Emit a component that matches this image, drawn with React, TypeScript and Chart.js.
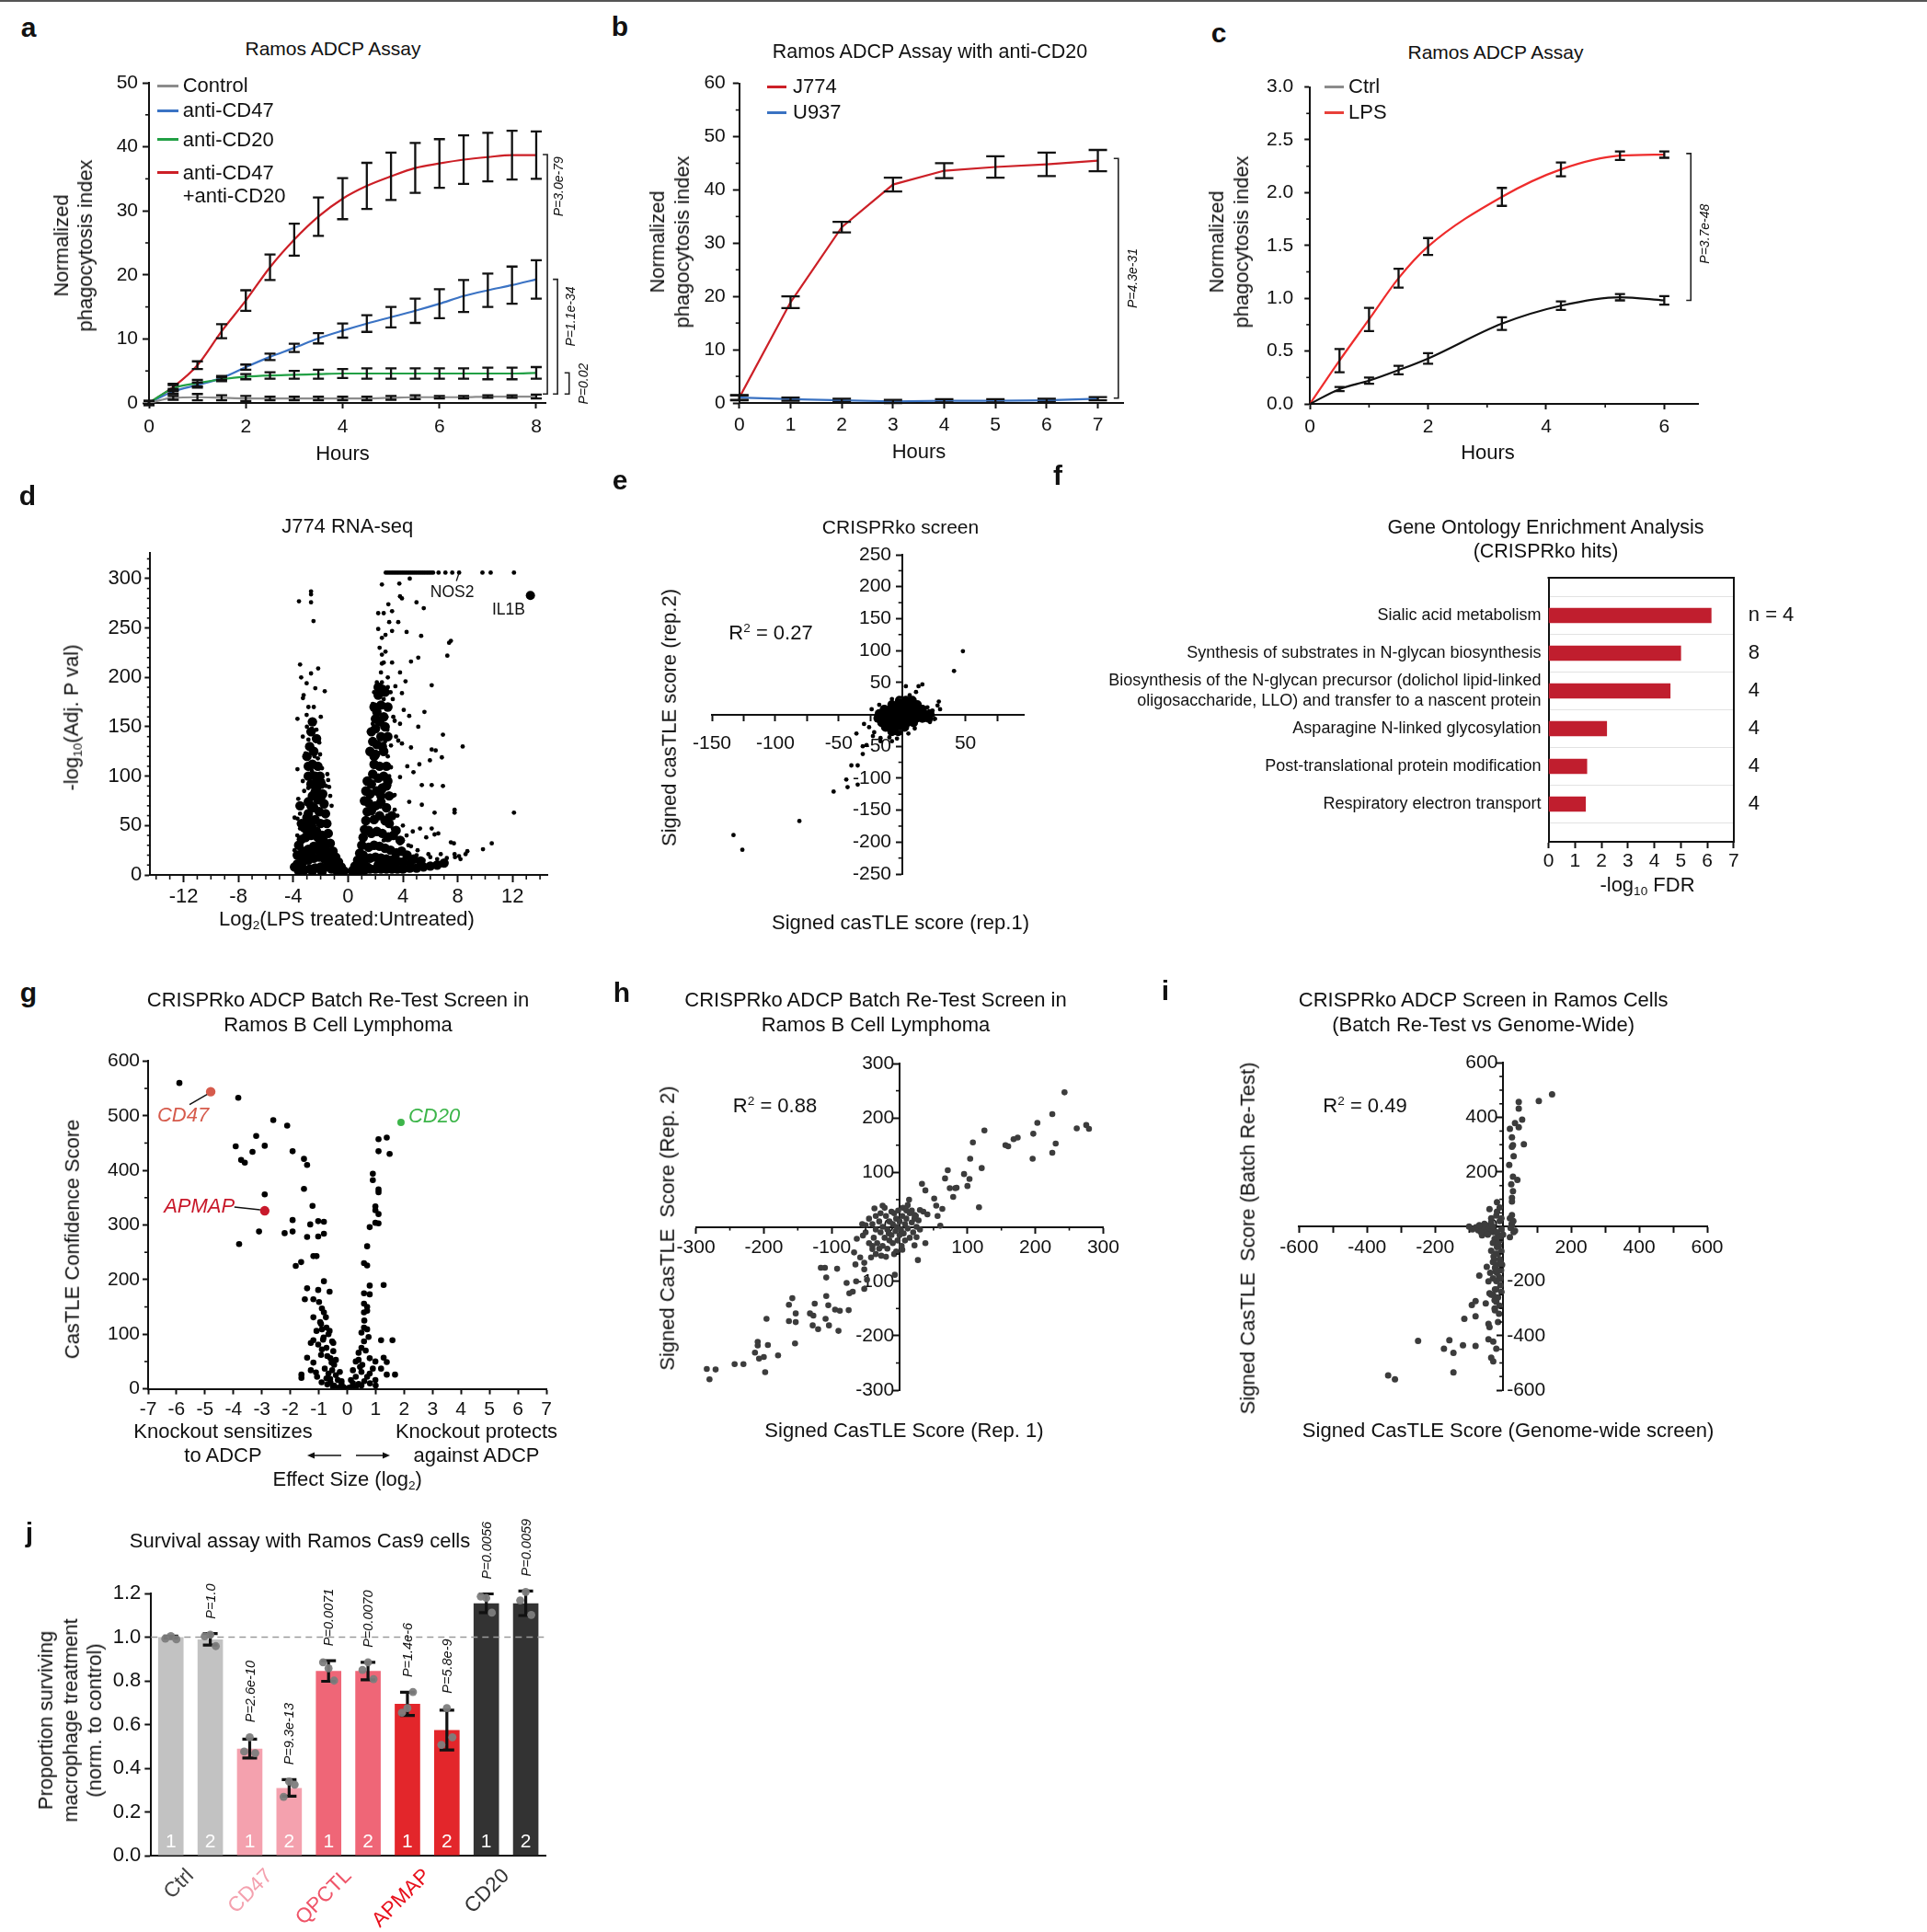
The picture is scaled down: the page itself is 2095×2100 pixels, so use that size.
import React, { useEffect, useRef } from 'react';
import { Chart, registerables } from 'chart.js';

Chart.register(...registerables);

const SANS = "'Liberation Sans', Arial, Helvetica, sans-serif";
Chart.defaults.font.family = SANS;
Chart.defaults.color = '#111';

/* ================= DATA ================= */
// Panel a
const aHours = [0, 0.5, 1, 1.5, 2, 2.5, 3, 3.5, 4, 4.5, 5, 5.5, 6, 6.5, 7, 7.5, 8];
const aControl = [0, 0.8, 0.9, 0.8, 0.7, 0.7, 0.7, 0.7, 0.7, 0.7, 0.8, 0.9, 0.9, 0.9, 1.0, 1.0, 1.0];
const aControlErr = [0.3, 0.3, 0.5, 0.4, 0.4, 0.3, 0.3, 0.3, 0.3, 0.3, 0.3, 0.3, 0.2, 0.2, 0.2, 0.2, 0.3];
const aCD47 = [0, 1.8, 2.8, 3.9, 5.6, 7.2, 8.6, 10.1, 11.3, 12.4, 13.4, 14.4, 15.5, 16.7, 17.6, 18.4, 19.3];
const aCD47Err = [0.3, 0.4, 0.4, 0.3, 0.4, 0.5, 0.65, 0.8, 1.1, 1.3, 1.6, 1.9, 2.25, 2.5, 2.6, 2.9, 3.0];
const aCD20 = [0, 2.3, 3.1, 3.7, 4.1, 4.3, 4.4, 4.5, 4.6, 4.6, 4.6, 4.6, 4.6, 4.6, 4.6, 4.6, 4.7];
const aCD20Err = [0.3, 0.5, 0.5, 0.3, 0.4, 0.5, 0.6, 0.7, 0.7, 0.8, 0.8, 0.8, 0.8, 0.8, 0.9, 0.9, 0.9];
const aCombo = [0, 2.5, 5.9, 11.2, 16.0, 21.2, 25.5, 29.1, 31.9, 33.9, 35.4, 36.7, 37.4, 38.0, 38.4, 38.7, 38.7];
const aComboErr = [0.3, 0.5, 0.6, 1.1, 1.6, 2.0, 2.5, 3.0, 3.2, 3.6, 3.7, 3.9, 3.8, 3.8, 3.8, 3.8, 3.7];

// Panel b
const bHours = [0, 1, 2, 3, 4, 5, 6, 7];
const bJ774 = [1.0, 18.9, 33.0, 41.0, 43.6, 44.3, 44.8, 45.5];
const bJ774Err = [0.4, 1.1, 1.0, 1.3, 1.4, 2.0, 2.2, 2.0];
const bU937 = [1.0, 0.7, 0.5, 0.3, 0.4, 0.4, 0.5, 0.8];
const bU937Err = [0.5, 0.3, 0.3, 0.3, 0.3, 0.3, 0.3, 0.3];

// Panel c
const cHours = [0, 0.5, 1, 1.5, 2, 3.25, 4.25, 5.25, 6];
const cCtrl = [0, 0.14, 0.22, 0.32, 0.43, 0.76, 0.93, 1.01, 0.98];
const cCtrlErr = [0, 0.02, 0.03, 0.04, 0.05, 0.06, 0.04, 0.03, 0.04];
const cLPS = [0, 0.41, 0.8, 1.19, 1.49, 1.96, 2.22, 2.35, 2.36];
const cLPSErr = [0, 0.11, 0.11, 0.09, 0.08, 0.085, 0.065, 0.04, 0.03];

// Panel d (log2 FC, -log10 adj P)
const dGenes: number[][] = [
  [-2.7, 287], [-2.7, 284], [-3.58, 277], [-2.7, 276], [-2.52, 257], [-3.5, 213], [-2.18, 209], [-2.7, 204], [-3.42, 200],
  [-3.02, 194], [-2.39, 189], [-1.7, 186], [-3.24, 182], [-3.29, 179], [-2.89, 170], [-3.69, 158], [-1.99, 160], [-3.02, 162],
  [-2.63, 154], [-2.63, 148], [-2.31, 147], [-2.89, 137], [-2.1, 134], [-2.79, 131], [-2.04, 122], [-3.1, 123], [-2.44, 120],
  [-3.69, 107], [-2.63, 105], [-1.51, 102], [-1.83, 95], [-1.38, 89], [-3.63, 77], [-3.9, 58], [-3.69, 57], [-3.5, 47],
  [-2.36, 56], [-2.57, 66], [-2.04, 75], [-3.42, 30], [-3.37, 15], [-3.58, 7], [-3.1, 21], [-2.97, 39], [-3.3, 95], [-3.0, 110],
  [-2.4, 100], [-3.2, 85], [-1.6, 90], [-3.5, 62], [-3.7, 40], [-3.9, 25], [-3.6, 12], [-2.9, 88], [-3.3, 140], [-2.5, 170],
  [-3.0, 150], [-2.2, 118], [-1.9, 108], [-1.45, 96], [-1.3, 80], [-1.2, 70],
  [2.75, 306], [2.9, 306], [3.05, 306], [3.2, 306], [3.35, 306], [3.5, 306], [3.65, 306], [3.8, 306], [3.95, 306], [4.1, 306],
  [4.25, 306], [4.4, 306], [4.55, 306], [4.7, 306], [4.85, 306], [5.0, 306], [5.15, 306], [5.3, 306], [5.45, 306], [5.6, 306],
  [5.75, 306], [5.9, 306], [6.05, 306], [6.2, 306], [6.6, 306], [7.1, 306], [7.6, 306], [8.1, 306], [9.8, 306], [10.4, 306],
  [12.1, 306], [4.5, 300],
  [2.47, 294], [3.74, 295], [3.79, 282], [3.93, 280], [4.99, 276], [2.94, 274], [5.52, 270], [2.2, 265], [2.6, 265], [3.21, 267],
  [3.0, 256], [3.66, 256], [2.2, 249], [3.21, 247], [4.27, 246], [2.73, 243], [5.33, 242], [2.47, 240], [7.5, 237], [7.37, 235],
  [2.73, 226], [2.47, 223], [7.24, 222], [5.12, 220], [4.59, 216], [2.47, 214], [3.21, 215], [3.79, 205], [2.47, 195], [4.19, 196],
  [3.45, 191], [6.1, 192], [2.2, 187], [3.93, 184], [3.26, 178], [1.8, 173], [2.86, 172], [4.06, 167], [5.57, 165], [4.46, 161],
  [3.4, 156], [3.79, 153], [5.12, 150], [6.92, 142], [2.86, 147], [1.8, 153], [3.66, 136], [3.13, 131], [4.59, 129], [3.93, 133],
  [6.1, 127], [8.36, 130], [6.39, 126], [6.84, 119], [5.97, 116], [5.2, 112], [4.32, 110], [4.77, 104], [3.13, 109], [5.38, 91],
  [6.1, 91], [6.92, 90], [3.79, 99], [4.46, 74], [3.4, 81], [5.38, 71], [6.31, 63], [7.77, 66], [7.77, 63], [12.1, 63], [5.25, 47],
  [6.1, 47], [4.72, 44], [4.27, 40], [4.0, 35], [5.7, 38], [6.31, 41], [6.58, 42], [7.5, 33], [7.72, 32], [7.77, 21], [8.09, 19],
  [8.7, 24], [9.84, 26], [10.48, 32], [8.57, 21], [6.76, 21], [5.86, 21], [5.07, 25], [4.59, 29], [3.79, 32], [3.53, 25],
  [2.94, 41], [2.6, 35], [3.26, 47], [2.86, 60], [2.33, 69], [3.4, 66], [2.6, 85], [3.0, 91], [2.9, 120], [2.7, 135], [2.5, 150],
  [2.8, 160], [2.6, 178], [2.9, 190], [2.4, 205], [2.6, 215], [2.3, 230], [2.9, 200], [3.1, 185], [3.3, 160], [3.5, 140], [3.0, 100],
  [3.3, 80], [3.6, 60], [4.0, 50], [4.4, 30], [5.0, 20], [5.5, 15], [6.0, 18], [6.5, 16], [7.2, 17], [7.8, 18], [8.2, 16],
  [1.9, 185], [2.1, 195],
];
const dDense: number[][] = [
  [-0.3, 4], [-0.5, 8], [-0.7, 13], [-0.9, 18], [-1.1, 24], [-1.3, 32], [-1.45, 42], [-1.55, 52], [-1.65, 62], [-1.75, 72],
  [-1.85, 82], [-1.95, 92], [-2.05, 100], [-0.8, 4], [-1.2, 6], [-1.6, 8], [-2.0, 8], [-2.4, 7], [-2.8, 6], [-3.2, 5], [-3.6, 4],
  [-1.3, 14], [-1.7, 16], [-2.1, 18], [-2.5, 17], [-2.9, 15], [-3.3, 13], [-3.7, 11], [-1.7, 28], [-2.1, 30], [-2.5, 29],
  [-2.9, 26], [-3.3, 24], [-1.9, 40], [-2.3, 44], [-2.7, 40], [-3.1, 38], [-2.0, 52], [-2.4, 56], [-2.8, 52], [-3.2, 48],
  [-2.1, 64], [-2.5, 68], [-2.9, 62], [-2.2, 76], [-2.6, 80], [-2.9, 74], [-2.3, 88], [-2.7, 92], [-2.4, 100], [-2.2, 110],
  [-2.6, 112], [-2.5, 125], [-2.8, 130], [-2.3, 138], [-2.7, 145],
  [-1.0, 10], [-1.4, 18], [-1.8, 20], [-2.2, 26], [-2.6, 24], [-3.0, 21], [-3.4, 19], [-3.6, 30], [-3.4, 36], [-3.0, 45],
  [-2.6, 48], [-2.2, 38], [-1.8, 35], [-1.6, 25], [-1.2, 19], [-2.4, 84], [-2.0, 78], [-2.7, 70], [-3.0, 58], [-3.4, 52],
  [-2.2, 95], [-2.9, 100], [-3.0, 120], [-2.6, 155], [-2.9, 110], [-3.5, 70], [-3.7, 20], [-3.9, 8], [-0.6, 2], [-2.6, 4],
  [-1.9, 3],
  [0.3, 4], [0.5, 9], [0.7, 15], [0.85, 22], [1.0, 30], [1.1, 38], [1.2, 46], [1.3, 55], [1.4, 64], [1.5, 73], [1.6, 82],
  [1.7, 92], [1.8, 102], [1.9, 112], [2.0, 122], [0.8, 4], [1.2, 5], [1.6, 6], [2.0, 6], [2.4, 6], [2.8, 6], [3.2, 6], [3.6, 6],
  [4.0, 6], [4.5, 7], [5.0, 7], [5.5, 8], [6.0, 9], [6.5, 10], [7.0, 12], [1.2, 15], [1.6, 17], [2.0, 18], [2.4, 17], [2.8, 16],
  [3.2, 15], [3.6, 14], [4.0, 13], [4.5, 12], [1.5, 28], [1.9, 30], [2.3, 29], [2.7, 27], [3.1, 25], [3.5, 22], [1.7, 42],
  [2.1, 44], [2.5, 42], [2.9, 38], [1.9, 56], [2.3, 60], [2.7, 55], [2.0, 70], [2.4, 74], [2.8, 68], [2.1, 85], [2.5, 88],
  [2.2, 98], [2.6, 100], [2.3, 110], [2.1, 132], [2.4, 140], [2.0, 148], [2.3, 155], [2.1, 165], [2.4, 172], [2.2, 182],
  [2.5, 188], [1.9, 170], [2.6, 160],
  [1.6, 125], [1.8, 135], [2.6, 125], [2.8, 110], [2.9, 140], [1.7, 145], [2.7, 150], [2.9, 170], [2.0, 158], [2.7, 185],
  [2.2, 190], [1.9, 120], [2.5, 130], [1.4, 95], [1.3, 85], [1.2, 75], [2.9, 95], [3.0, 80], [3.2, 60], [3.3, 40], [3.8, 35],
  [3.5, 45], [3.0, 52], [4.3, 20], [4.8, 16], [5.3, 14], [3.9, 24], [1.0, 12], [0.6, 3], [1.4, 8], [2.2, 10], [2.6, 10],
  [3.0, 9], [3.4, 10], [1.1, 20], [1.5, 45], [1.7, 65], [2.8, 90], [2.4, 80],
];
const dIL1B: number[][] = [[13.3, 283]];
const dNOS2: number[][] = [[8.1, 306]];

// Panel e (rep1, rep2)
const eGenes: number[][] = [
  [48, 99], [41, 68], [16, 47], [13, 44], [3, 44], [11, 35], [29, 20], [20, 11], [24, 6], [26, -7], [18, 2], [-30, -15],
  [-36, -30], [-23, -34], [-17, -37], [-31, -50], [-28, -48], [-17, -42], [-8, -42], [-31, -62], [-40, -80], [-35, -80],
  [-44, -102], [-43, -114], [-35, -110], [-54, -121], [-81, -167], [-133, -189], [-126, -212], [-12, -5], [-26, -20],
  [-22, -28], [-10, -36], [-4, -38], [5, -30], [10, -22], [22, -12], [28, 14], [30, 8], [-24, 8], [-18, 15], [-8, 24], [6, 30],
];
const eDense: number[][] = [
  [-2, 22], [3, 22], [8, 22], [-8, 15], [-3, 15], [2, 15], [7, 15], [12, 15], [-14, 8], [-9, 8], [-4, 8], [1, 8], [6, 8],
  [11, 8], [16, 8], [-18, 1], [-13, 1], [-8, 1], [-3, 1], [2, 1], [7, 1], [12, 1], [17, 1], [22, 1], [-19, -6], [-14, -6],
  [-9, -6], [-4, -6], [1, -6], [6, -6], [11, -6], [16, -6], [21, -6], [-16, -13], [-11, -13], [-6, -13], [-1, -13], [4, -13],
  [9, -13], [-13, -20], [-8, -20], [-3, -20], [2, -20], [-8, -27], [-3, -27],
];

// Panel f
const fTerms: (string | string[])[] = [
  'Sialic acid metabolism',
  'Synthesis of substrates in N-glycan biosynthesis',
  ['Biosynthesis of the N-glycan precursor (dolichol lipid-linked', 'oligosaccharide, LLO) and transfer to a nascent protein'],
  'Asparagine N-linked glycosylation',
  'Post-translational protein modification',
  'Respiratory electron transport',
];
const fLogFDR = [6.15, 5.0, 4.6, 2.2, 1.45, 1.4];
const fCounts = ['n = 4', '8', '4', '4', '4', '4'];

// Panel g (effect size, confidence)
const gGenes: number[][] = [
  [-5.9, 560], [-3.83, 533], [-2.6, 492], [-2.11, 482], [-3.2, 463], [-3.92, 444], [-2.9, 445], [-3.33, 434], [-1.92, 435],
  [-3.73, 419], [-3.6, 414], [-1.52, 421], [-1.41, 410], [-1.52, 366], [-2.9, 356], [-1.22, 335], [-3.1, 288], [-3.8, 265],
  [-1.92, 309], [-2.2, 285], [-1.92, 288], [-1.3, 301], [-1.02, 307], [-0.82, 306], [-1.41, 278], [-1.02, 279], [-0.82, 284],
  [-1.19, 243], [-1.08, 243], [-1.81, 225], [-1.62, 232], [-1.41, 184], [-1.49, 164], [-0.82, 197], [-1.02, 181], [-0.62, 178],
  [-1.19, 164], [-0.99, 159], [-0.82, 140], [-0.89, 147], [-1.19, 131], [-0.75, 131], [-0.92, 119], [-0.73, 112], [-0.89, 109],
  [-0.62, 106], [-1.28, 84], [-1.02, 81], [-1.19, 89], [-0.83, 94], [-0.53, 87], [-1.41, 57], [-1.19, 48], [-1.28, 34],
  [-1.61, 26], [-1.61, 20], [-1.06, 22], [-0.92, 62], [-0.73, 75], [-0.59, 56], [-0.49, 69], [-0.79, 37], [-0.66, 28],
  [-0.46, 44], [-0.4, 25], [-0.59, 12], [-0.33, 16], [-0.26, 31], [-0.2, 9], [-0.46, 6], [-0.13, 3], [-0.73, 19], [-0.53, 34],
  [-0.4, 53], [-0.89, 72], [-0.66, 100], [-0.49, 84], [-1.08, 106],
  [1.39, 460], [1.1, 457], [1.1, 435], [1.49, 430], [0.9, 394], [0.9, 382], [1.1, 365], [1.1, 360], [0.99, 334], [0.99, 327],
  [1.1, 320], [0.99, 304], [1.1, 303], [0.79, 296], [0.7, 261], [0.59, 230], [0.7, 226], [0.79, 189], [1.28, 190], [0.79, 173],
  [0.59, 175], [0.59, 156], [0.7, 150], [0.59, 140], [0.7, 143], [0.59, 112], [0.7, 109], [0.5, 103], [0.59, 87], [1.19, 89],
  [1.59, 89], [0.5, 75], [0.4, 66], [0.3, 50], [0.79, 56], [0.99, 50], [1.28, 57], [1.39, 49], [1.19, 37], [1.68, 26],
  [1.39, 26], [0.99, 16], [0.5, 31], [0.2, 34], [0.3, 22], [0.13, 16], [0.4, 9], [0.2, 5], [0.07, 2], [0.7, 22], [0.9, 37],
  [0.79, 28], [0.53, 44], [0.4, 53],
  [-0.3, 2], [-0.5, 4], [-0.7, 8], [-0.1, 1], [0.3, 3], [0.5, 6], [0.2, 10], [-0.2, 14], [-0.6, 18], [0.6, 14], [0.8, 10],
  [1.0, 6], [-0.9, 12], [-1.1, 30], [0.45, 40], [-0.55, 48], [-0.7, 60], [0.65, 70], [-0.85, 90], [0.75, 95], [-0.95, 122],
  [0.6, 125],
];
const gCD47: number[][] = [[-4.8, 544]];
const gAPMAP: number[][] = [[-2.9, 326]];
const gCD20: number[][] = [[1.89, 488]];

// Panel h (rep1, rep2)
const hGenes: number[][] = [
  [243, 247], [225, 207], [203, 191], [197, 171], [261, 181], [275, 187], [279, 180], [230, 153], [225, 136], [196, 125],
  [168, 161], [174, 164], [156, 150], [160, 148], [125, 177], [108, 155], [104, 125], [121, 108], [117, 36], [95, 97],
  [103, 88], [100, 75], [71, 104], [67, 89], [74, 71], [82, 71], [79, 55], [84, 72], [33, 79], [38, 67], [51, 52], [54, 39],
  [63, 33], [56, 20], [60, 2], [14, 50], [30, 31], [35, 28], [41, 23], [22, 22], [25, -19], [22, -34], [38, -30], [27, -61],
  [4, -42], [-7, -88], [-37, 34], [-25, 39], [-50, 3], [-54, -16], [-63, -22], [-67, -47], [-58, -56], [-65, -69], [-52, -66],
  [-42, -56], [-35, -50], [-27, -53], [-40, -41], [-52, -78], [-48, -97], [-64, -100], [-78, -103], [-69, -119], [-74, -122],
  [-52, -114], [-92, -77], [-108, -93], [-116, -75], [-110, -75], [-108, -127], [-105, -144], [-95, -152], [-88, -154],
  [-75, -153], [-125, -141], [-132, -159], [-127, -163], [-109, -169], [-104, -181], [-128, -181], [-120, -188], [-90, -191],
  [-163, -143], [-158, -131], [-153, -159], [-163, -173], [-153, -175], [-154, -214], [-196, -169], [-194, -217], [-209, -211],
  [-209, -218], [-213, -231], [-207, -242], [-200, -239], [-179, -236], [-198, -267], [-230, -252], [-243, -252], [-271, -262],
  [-284, -261], [-280, -280],
  [-45, 15], [-40, 5], [-35, -5], [-30, 10], [-28, -10], [-25, 0], [-22, -20], [-20, 20], [-18, -5], [-15, 10], [-12, -15],
  [-10, 5], [-8, 25], [-6, -8], [-5, 15], [-3, -25], [0, 10], [2, -5], [4, 20], [6, -12], [8, 5], [10, 15], [12, -3], [15, 25],
  [18, 8], [20, -10], [22, 15], [25, 0], [28, 12], [30, -5], [-38, -20], [-33, -30], [-25, -35], [-18, -40], [-10, -30],
  [-5, -45], [-30, -40], [-40, -35], [-20, -55], [-15, -25], [0, -15], [5, 35], [10, 30], [-2, 30], [-12, 28], [15, -20],
  [-8, -50], [3, -35], [-28, 25], [-50, -10], [-45, -30], [-35, 20], [8, -25], [-55, 5], [12, 40], [-22, 35], [18, 30],
  [24, 20], [-16, -12], [-4, 0],
];

// Panel i (genome-wide, batch re-test)
const iGenes: number[][] = [
  [144, 485], [105, 460], [46, 457], [46, 432], [56, 392], [35, 379], [46, 364], [20, 358], [26, 327], [29, 298], [26, 292],
  [61, 302], [31, 258], [18, 226], [29, 183], [42, 171], [24, 155], [29, 130], [26, 105], [26, 92], [-18, 89], [-40, 64],
  [-18, 55], [26, 42], [20, 30], [26, 5], [31, -20], [20, -39], [-73, -14], [-62, -32], [-51, 5], [-35, 30], [-29, -20],
  [-24, -57], [-35, -89], [-26, -120], [-24, -151], [-48, -148], [-70, -180], [-18, -170], [-43, -201], [-24, -230],
  [-40, -245], [-29, -251], [-20, -276], [-24, -307], [-51, -282], [-81, -273], [-92, -288], [-81, -329], [-114, -338],
  [-43, -357], [-40, -369], [-43, -413], [-29, -422], [-20, -448], [-158, -417], [-250, -419], [-174, -448], [-146, -463],
  [-118, -435], [-81, -438], [-35, -481], [-29, -494], [-146, -535], [-338, -546], [-318, -560],
  [-10, 20], [-5, -10], [-15, -30], [-8, -50], [-12, -70], [-5, -90], [-15, -100], [-10, -120], [-18, -140], [-6, -160],
  [-12, -185], [-20, -200], [-8, -215], [-15, -260], [-10, -290], [-25, -300], [-30, -10], [-45, -5], [-60, -8], [-80, -3],
  [-55, 10], [-35, 15], [-20, 40], [-10, 70], [-30, 0], [-5, 30], [-25, -45], [-18, -75], [-28, -110], [-8, -130], [-22, -165],
  [-30, -190], [-5, -240], [-12, -320], [-35, -250], [-15, -350], [25, 10], [30, 20], [22, -5], [35, -15], [-40, -20],
  [-20, -20], [-50, -25], [-65, -20], [-70, 5], [-12, -40], [-30, -60], [-20, -230], [-25, -270], [-18, -160], [-30, -130],
  [-8, -190], [-38, -170], [-15, -60], [0, -30], [-3, -140], [-22, -100], [-45, -30], [-90, -10], [-100, 0],
];

// Panel j
const jGroups = ['Ctrl', 'CD47', 'QPCTL', 'APMAP', 'CD20'];
const jBars = ['Ctrl 1', 'Ctrl 2', 'CD47 1', 'CD47 2', 'QPCTL 1', 'QPCTL 2', 'APMAP 1', 'APMAP 2', 'CD20 1', 'CD20 2'];
const jGuide = ['1', '2', '1', '2', '1', '2', '1', '2', '1', '2'];
const jMeans = [1.0, 0.99, 0.49, 0.31, 0.845, 0.845, 0.695, 0.575, 1.155, 1.155];
const jErr = [0.005, 0.026, 0.043, 0.038, 0.047, 0.04, 0.053, 0.091, 0.043, 0.056];
const jRep1 = [0.993, 1.004, 0.476, 0.269, 0.885, 0.85, 0.654, 0.507, 1.186, 1.168];
const jRep2 = [1.005, 1.011, 0.542, 0.339, 0.857, 0.885, 0.675, 0.675, 1.179, 1.207];
const jRep3 = [0.99, 0.959, 0.469, 0.325, 0.801, 0.808, 0.749, 0.542, 1.112, 1.102];
const jPvals = ['', 'P=1.0', 'P=2.6e-10', 'P=9.3e-13', 'P=0.0071', 'P=0.0070', 'P=1.4e-6', 'P=5.8e-9', 'P=0.0056', 'P=0.0059'];

/* ================= STYLE ================= */
const INK = '#111';
const jBarColors = ['#c2c2c2', '#c2c2c2', '#f4a1ae', '#f4a1ae', '#ef6677', '#ef6677', '#e3262b', '#e3262b', '#333333', '#333333'];
const jGroupColors = ['#444444', '#f4a1ae', '#ef5468', '#e8101c', '#333333'];

/* ================= HELPERS ================= */
const xy = (xs: number[], ys: number[]) => xs.map((x, i) => ({ x, y: ys[i] }));
const pts = (arr: number[][]) => arr.map(([x, y]) => ({ x, y }));
const seq = (a: number, b: number, s: number, skip: number) => {
  const out: number[] = [];
  for (let v = a; v <= b + 1e-9; v += s) {
    const r = Math.round(v * 1000) / 1000;
    if (Math.abs(r / skip - Math.round(r / skip)) > 1e-6) out.push(r);
  }
  return out;
};

function baseOpts(padding: any) {
  return {
    responsive: false,
    maintainAspectRatio: false,
    animation: false,
    devicePixelRatio: 1,
    events: [],
    layout: { padding },
    plugins: { legend: { display: false }, tooltip: { enabled: false }, title: { display: false } },
  };
}

function lin(o: any) {
  const { min, max, step, size, cb, fit, horiz, tl = 6, pad = 3, position } = o;
  const s: any = {
    type: 'linear',
    min,
    max,
    border: { display: true, color: INK, width: 2 },
    grid: { display: true, drawOnChartArea: false, drawTicks: true, tickLength: tl, tickWidth: 2, tickColor: INK, color: INK },
    ticks: {
      stepSize: step,
      includeBounds: false,
      color: INK,
      font: { size, family: SANS },
      padding: pad,
      autoSkip: false,
      maxRotation: 0,
      callback: cb || ((v: number) => String(v)),
    },
  };
  if (position !== undefined) s.position = position;
  if (fit != null) s.afterFit = (sc: any) => { if (horiz) sc.height = fit; else sc.width = fit; };
  return s;
}

function minorTicks(specs: { axis: string; values: number[]; len: number; cross?: string }[]) {
  return {
    id: 'minorTicks',
    afterDraw(chart: any) {
      const ctx = chart.ctx;
      const ca = chart.chartArea;
      ctx.save();
      ctx.strokeStyle = INK;
      ctx.lineWidth = 1.6;
      for (const s of specs) {
        const sc = chart.scales[s.axis];
        for (const v of s.values) {
          const p = sc.getPixelForValue(v);
          ctx.beginPath();
          if (sc.isHorizontal()) {
            const y0 = s.cross ? chart.scales[s.cross].getPixelForValue(0) : ca.bottom;
            ctx.moveTo(p, y0);
            ctx.lineTo(p, y0 + s.len);
          } else {
            const x0 = s.cross ? chart.scales[s.cross].getPixelForValue(0) : ca.left;
            ctx.moveTo(x0, p);
            ctx.lineTo(x0 - s.len, p);
          }
          ctx.stroke();
        }
      }
      ctx.restore();
    },
  };
}

function errorBars(sets: { xs: number[]; ys: number[]; es: number[] }[], cap: number, width: number) {
  return {
    id: 'errorBars',
    afterDatasetsDraw(chart: any) {
      const xs = chart.scales.x;
      const ys = chart.scales.y;
      const ctx = chart.ctx;
      ctx.save();
      ctx.strokeStyle = INK;
      ctx.lineWidth = width;
      for (const s of sets) {
        s.ys.forEach((v, i) => {
          const e = s.es[i];
          if (!e) return;
          const x = xs.getPixelForValue(s.xs[i]);
          const y1 = ys.getPixelForValue(v + e);
          const y2 = ys.getPixelForValue(v - e);
          ctx.beginPath();
          ctx.moveTo(x, y1);
          ctx.lineTo(x, y2);
          ctx.moveTo(x - cap, y1);
          ctx.lineTo(x + cap, y1);
          ctx.moveTo(x - cap, y2);
          ctx.lineTo(x + cap, y2);
          ctx.stroke();
        });
      }
      ctx.restore();
    },
  };
}

function brackets(items: { x: number; y1: number; y2: number; label: string; ly: number; dx: number }[], capLen: number) {
  return {
    id: 'brackets',
    afterDraw(chart: any) {
      const xs = chart.scales.x;
      const ys = chart.scales.y;
      const ctx = chart.ctx;
      ctx.save();
      ctx.strokeStyle = '#222';
      ctx.lineWidth = 1.6;
      ctx.fillStyle = INK;
      ctx.font = `italic 14px ${SANS}`;
      for (const b of items) {
        const x = xs.getPixelForValue(b.x);
        const a = ys.getPixelForValue(b.y1);
        const c = ys.getPixelForValue(b.y2);
        ctx.beginPath();
        ctx.moveTo(x - capLen, a);
        ctx.lineTo(x, a);
        ctx.lineTo(x, c);
        ctx.lineTo(x - capLen, c);
        ctx.stroke();
        ctx.save();
        ctx.translate(x + b.dx, ys.getPixelForValue(b.ly));
        ctx.rotate(-Math.PI / 2);
        ctx.textAlign = 'center';
        ctx.textBaseline = 'middle';
        ctx.fillText(b.label, 0, 0);
        ctx.restore();
      }
      ctx.restore();
    },
  };
}

const lineDs = (xs: number[], ys: number[], color: string, smooth: boolean) => ({
  data: xy(xs, ys),
  borderColor: color,
  borderWidth: 2.2,
  pointRadius: 0,
  fill: false,
  cubicInterpolationMode: smooth ? 'monotone' : 'default',
  tension: 0,
});

const dotDs = (arr: number[][], color: string, r: number) => ({
  data: pts(arr),
  backgroundColor: color,
  borderWidth: 0,
  pointRadius: r,
  pointHoverRadius: r,
});

/* ================= CHART CONFIGS ================= */
const makeA = () => ({
  type: 'line',
  data: {
    datasets: [
      lineDs(aHours, aControl, '#8c8c8c', true),
      lineDs(aHours, aCD20, '#22a045', true),
      lineDs(aHours, aCD47, '#3b73c4', true),
      lineDs(aHours, aCombo, '#cc1f26', true),
    ],
  },
  options: {
    ...baseOpts({ left: 0, right: 66.5, top: 20, bottom: 0 }),
    scales: {
      x: lin({ min: 0, max: 8.2, step: 2, size: 21, fit: 92, horiz: true, tl: 6, pad: 8 }),
      y: lin({ min: 0, max: 50, step: 10, size: 21, fit: 162, tl: 7, pad: 5 }),
    },
  },
  plugins: [
    errorBars([
      { xs: aHours, ys: aControl, es: aControlErr },
      { xs: aHours, ys: aCD20, es: aCD20Err },
      { xs: aHours, ys: aCD47, es: aCD47Err },
      { xs: aHours, ys: aCombo, es: aComboErr },
    ], 6, 2.3),
    brackets([
      { x: 8.23, y1: 38.8, y2: 1.4, label: 'P=3.0e-79', ly: 33.8, dx: 13 },
      { x: 8.44, y1: 19.3, y2: 1.4, label: 'P=1.1e-34', ly: 13.5, dx: 15 },
      { x: 8.68, y1: 4.7, y2: 1.4, label: 'P=0.02', ly: 3.0, dx: 16 },
    ], 5),
    minorTicks([{ axis: 'y', values: seq(5, 45, 5, 10), len: 4 }]),
  ],
});

const makeB = () => ({
  type: 'line',
  data: {
    datasets: [lineDs(bHours, bU937, '#3a72c2', false), lineDs(bHours, bJ774, '#cc2027', false)],
  },
  options: {
    ...baseOpts({ left: 0, right: 34.6, top: 20, bottom: 0 }),
    scales: {
      x: lin({ min: 0, max: 7.5, step: 1, size: 21, fit: 92, horiz: true, tl: 6, pad: 6 }),
      y: lin({ min: 0, max: 60, step: 10, size: 21, fit: 147.8, tl: 7, pad: 8 }),
    },
  },
  plugins: [
    errorBars([
      { xs: bHours, ys: bU937, es: bU937Err },
      { xs: bHours, ys: bJ774, es: bJ774Err },
    ], 10, 2.3),
    brackets([{ x: 7.4, y1: 45.9, y2: 0.9, label: 'P=4.3e-31', ly: 23.4, dx: 16 }], 5),
    minorTicks([{ axis: 'y', values: seq(5, 55, 5, 10), len: 4 }]),
  ],
});

const makeC = () => ({
  type: 'line',
  data: {
    datasets: [lineDs(cHours, cCtrl, '#111111', true), lineDs(cHours, cLPS, '#ee2c2c', true)],
  },
  options: {
    ...baseOpts({ left: 0, right: 63.4, top: 20, bottom: 0 }),
    scales: {
      x: lin({ min: 0, max: 6.58, step: 2, size: 21, fit: 91, horiz: true, tl: 6, pad: 7 }),
      y: lin({ min: 0, max: 3, step: 0.5, size: 21, fit: 134.2, tl: 6, pad: 12, cb: (v: number) => v.toFixed(1) }),
    },
  },
  plugins: [
    errorBars([
      { xs: cHours, ys: cCtrl, es: cCtrlErr },
      { xs: cHours, ys: cLPS, es: cLPSErr },
    ], 5.5, 2.3),
    brackets([{ x: 6.45, y1: 2.37, y2: 0.98, label: 'P=3.7e-48', ly: 1.61, dx: 16 }], 5),
    minorTicks([
      { axis: 'y', values: seq(0.25, 2.75, 0.25, 0.5), len: 4 },
      { axis: 'x', values: [1, 3, 5], len: 4 },
    ]),
  ],
});

const makeD = () => ({
  type: 'scatter',
  data: {
    datasets: [dotDs(dGenes, '#000', 2.4), dotDs(dDense, '#000', 5.2), dotDs(dIL1B, '#000', 5)],
  },
  options: {
    ...baseOpts({ left: 0, right: 45, top: 21, bottom: 0 }),
    scales: {
      x: lin({ min: -14.43, max: 14.53, step: 4, size: 22, fit: 69, horiz: true, tl: 8, pad: 3 }),
      y: lin({ min: 0, max: 326, step: 50, size: 22, fit: 163.3, tl: 6, pad: 3 }),
    },
  },
  plugins: [
    minorTicks([
      { axis: 'x', values: seq(-14, 14, 1, 4), len: 5 },
      { axis: 'y', values: seq(10, 320, 10, 50), len: 3.5 },
    ]),
    {
      id: 'nos2',
      afterDatasetsDraw(chart: any) {
        const ctx = chart.ctx;
        const x = chart.scales.x.getPixelForValue(dNOS2[0][0]);
        const y = chart.scales.y.getPixelForValue(dNOS2[0][1]);
        ctx.save();
        ctx.strokeStyle = INK;
        ctx.lineWidth = 1.3;
        ctx.beginPath();
        ctx.moveTo(x, y);
        ctx.lineTo(x - 3, y + 9);
        ctx.stroke();
        ctx.restore();
      },
    },
  ],
});

const makeE = () => ({
  type: 'scatter',
  data: { datasets: [dotDs(eDense, '#000', 5), dotDs(eGenes, '#000', 2.4)] },
  options: {
    ...baseOpts({ left: 74, right: 47, top: 43, bottom: 40 }),
    scales: {
      x: lin({
        min: -150, max: 96, step: 25, size: 21, tl: 6, pad: 13, position: { y: 0 },
        cb: (v: number) => ([-150, -100, -50, 50].includes(v) ? String(v) : ''),
      }),
      y: lin({
        min: -250, max: 250, step: 50, size: 21, tl: 6, pad: 4, position: { x: 0 },
        cb: (v: number) => (v === 0 ? '' : `${v}  `),
      }),
    },
  },
  plugins: [minorTicks([{ axis: 'y', values: seq(-225, 225, 25, 50), len: 4, cross: 'x' }])],
});

const makeF = () => ({
  type: 'bar',
  data: {
    labels: ['', ...fTerms, ''],
    datasets: [{ data: [null, ...fLogFDR, null], backgroundColor: '#c01e2e', barThickness: 16, xAxisID: 'x', yAxisID: 'y' }],
  },
  options: {
    ...baseOpts({ left: 0, right: 0, top: 28, bottom: 0 }),
    indexAxis: 'y',
    scales: {
      x: lin({ min: 0, max: 7, step: 1, size: 21, fit: 75, horiz: true, tl: 7, pad: 2 }),
      y: {
        type: 'category',
        position: 'left',
        offset: false,
        border: { display: true, color: INK, width: 2 },
        grid: { display: true, drawOnChartArea: true, drawTicks: false, offset: true, color: '#e2e2e2', lineWidth: 1 },
        ticks: { color: INK, font: { size: 18, family: SANS }, padding: 8, autoSkip: false },
        afterFit: (s: any) => { s.width = 533.5; },
      },
      y2: {
        type: 'category',
        position: 'right',
        labels: ['', ...fCounts, ''],
        offset: false,
        border: { display: true, color: INK, width: 2 },
        grid: { display: false },
        ticks: { color: INK, font: { size: 22, family: SANS }, padding: 8, autoSkip: false },
        afterFit: (s: any) => { s.width = 145.2; },
      },
    },
  },
  plugins: [
    {
      id: 'topBorder',
      afterDraw(chart: any) {
        const { ctx, chartArea: ca } = chart;
        ctx.save();
        ctx.strokeStyle = INK;
        ctx.lineWidth = 2;
        ctx.beginPath();
        ctx.moveTo(ca.left - 1, ca.top);
        ctx.lineTo(ca.right + 1, ca.top);
        ctx.stroke();
        ctx.restore();
      },
    },
  ],
});

const makeG = () => ({
  type: 'scatter',
  data: {
    datasets: [
      dotDs(gGenes, '#000', 3.3),
      dotDs(gCD47, '#d65b4c', 5.2),
      dotDs(gAPMAP, '#c8192b', 5.2),
      dotDs(gCD20, '#3db54a', 4),
    ],
  },
  options: {
    ...baseOpts({ left: 0, right: 46, top: 28.4, bottom: 0 }),
    scales: {
      x: lin({ min: -7, max: 7, step: 1, size: 21, fit: 60.4, horiz: true, tl: 6, pad: 4 }),
      y: lin({ min: 0, max: 600, step: 100, size: 21, fit: 161, tl: 6, pad: 3 }),
    },
  },
  plugins: [
    minorTicks([{ axis: 'y', values: seq(50, 550, 50, 100), len: 4 }]),
    {
      id: 'gLeaders',
      afterDatasetsDraw(chart: any) {
        const ctx = chart.ctx;
        const px = (p: number[]) => [chart.scales.x.getPixelForValue(p[0]), chart.scales.y.getPixelForValue(p[1])];
        ctx.save();
        ctx.strokeStyle = INK;
        ctx.lineWidth = 1.5;
        const [cx, cy] = px(gCD47[0]);
        ctx.beginPath();
        ctx.moveTo(cx - 4, cy + 3);
        ctx.lineTo(cx - 23, cy + 14);
        ctx.stroke();
        const [ax, ay] = px(gAPMAP[0]);
        ctx.beginPath();
        ctx.moveTo(ax - 5, ay - 1);
        ctx.lineTo(ax - 33, ay - 4);
        ctx.stroke();
        ctx.restore();
      },
    },
  ],
});

const makeH = () => ({
  type: 'scatter',
  data: { datasets: [dotDs(hGenes, '#3c3c3c', 3.3)] },
  options: {
    ...baseOpts({ left: 66.6, right: 50.6, top: 26, bottom: 28.9 }),
    scales: {
      x: lin({ min: -300, max: 300, step: 100, size: 21, tl: 6, pad: 4, position: { y: 0 }, cb: (v: number) => (v === 0 ? '' : String(v)) }),
      y: lin({ min: -300, max: 300, step: 100, size: 21, tl: 6, pad: 3, position: { x: 0 }, cb: (v: number) => `${v} ` }),
    },
  },
  plugins: [
    minorTicks([
      { axis: 'x', values: seq(-250, 250, 50, 100), len: 4, cross: 'y' },
      { axis: 'y', values: seq(-250, 250, 50, 100), len: 4, cross: 'x' },
    ]),
  ],
});

const makeI = () => ({
  type: 'scatter',
  data: { datasets: [dotDs(iGenes, '#3c3c3c', 3.5)] },
  options: {
    ...baseOpts({ left: 52.3, right: 64, top: 25.3, bottom: 28.9 }),
    scales: {
      x: lin({
        min: -600, max: 600, step: 100, size: 21, tl: 6, pad: 4, position: { y: 0 },
        cb: (v: number) => ([200, 400, 600].includes(Math.abs(v)) ? String(v) : ''),
      }),
      y: lin({
        min: -600, max: 600, step: 200, size: 21, tl: 6, pad: 2, position: { x: 0 },
        cb: (v: number) => (v >= 0 ? `${v} ` : ''),
      }),
    },
  },
  plugins: [
    minorTicks([{ axis: 'y', values: seq(-550, 550, 50, 200), len: 4, cross: 'x' }]),
    {
      id: 'negLabels',
      afterDraw(chart: any) {
        const ctx = chart.ctx;
        const x0 = chart.scales.x.getPixelForValue(0);
        ctx.save();
        ctx.fillStyle = INK;
        ctx.font = `21px ${SANS}`;
        ctx.textAlign = 'left';
        ctx.textBaseline = 'middle';
        for (const v of [-200, -400, -600]) ctx.fillText(String(v), x0 + 4, chart.scales.y.getPixelForValue(v));
        ctx.restore();
      },
    },
  ],
});

const makeJ = () => ({
  type: 'bar',
  data: {
    labels: jBars,
    datasets: [{ data: jMeans, backgroundColor: jBarColors, barPercentage: 0.645, categoryPercentage: 1, xAxisID: 'x', yAxisID: 'y' }],
  },
  options: {
    ...baseOpts({ left: 0, right: 47, top: 87, bottom: 0 }),
    scales: {
      x: { type: 'category', display: false, offset: true },
      x2: {
        type: 'category',
        labels: jGroups,
        position: 'bottom',
        offset: true,
        border: { display: true, color: INK, width: 2 },
        grid: { display: false },
        ticks: {
          minRotation: 45,
          maxRotation: 45,
          autoSkip: false,
          padding: 1,
          font: { size: 22.5, family: SANS },
          color: (c: any) => jGroupColors[c.index] || INK,
        },
        afterFit: (s: any) => { s.height = 83; },
      },
      y: lin({ min: 0, max: 1.2, step: 0.2, size: 22, fit: 164.3, tl: 7, pad: 4, cb: (v: number) => v.toFixed(1) }),
    },
  },
  plugins: [
    {
      id: 'jDecor',
      afterDatasetsDraw(chart: any) {
        const xs = chart.scales.x;
        const ys = chart.scales.y;
        const ctx = chart.ctx;
        const ca = chart.chartArea;
        ctx.save();
        ctx.strokeStyle = '#9a9a9a';
        ctx.lineWidth = 1.6;
        ctx.setLineDash([7, 5]);
        const yr = ys.getPixelForValue(1.0);
        ctx.beginPath();
        ctx.moveTo(ca.left, yr);
        ctx.lineTo(ca.right, yr);
        ctx.stroke();
        ctx.setLineDash([]);
        ctx.fillStyle = '#fff';
        ctx.font = `21px ${SANS}`;
        ctx.textAlign = 'center';
        ctx.textBaseline = 'middle';
        jGuide.forEach((t, i) => ctx.fillText(t, xs.getPixelForValue(i), ys.getPixelForValue(0) - 15));
        ctx.strokeStyle = INK;
        ctx.lineWidth = 3.2;
        jMeans.forEach((m, i) => {
          const x = xs.getPixelForValue(i);
          const y1 = ys.getPixelForValue(m + jErr[i]);
          const y2 = ys.getPixelForValue(m - jErr[i]);
          ctx.beginPath();
          ctx.moveTo(x, y1);
          ctx.lineTo(x, y2);
          ctx.moveTo(x - 8, y1);
          ctx.lineTo(x + 8, y1);
          ctx.moveTo(x - 8, y2);
          ctx.lineTo(x + 8, y2);
          ctx.stroke();
        });
        const offs = [-6, 0, 6];
        ctx.fillStyle = 'rgba(125,125,125,0.95)';
        [jRep1, jRep2, jRep3].forEach((rep, k) => {
          rep.forEach((v, i) => {
            ctx.beginPath();
            ctx.arc(xs.getPixelForValue(i) + offs[k], ys.getPixelForValue(v), 4.4, 0, Math.PI * 2);
            ctx.fill();
          });
        });
        ctx.fillStyle = INK;
        ctx.font = `italic 14.5px ${SANS}`;
        jPvals.forEach((t, i) => {
          if (!t) return;
          const top = Math.max(jMeans[i] + jErr[i], jRep1[i], jRep2[i], jRep3[i]);
          ctx.save();
          ctx.translate(xs.getPixelForValue(i) + 1, ys.getPixelForValue(top) - 16);
          ctx.rotate(-Math.PI / 2);
          ctx.textAlign = 'left';
          ctx.textBaseline = 'middle';
          ctx.fillText(t, 0, 0);
          ctx.restore();
        });
        ctx.restore();
      },
    },
  ],
});

/* ================= COMPONENTS ================= */
function ChartBox({ x, y, w, h, make }: { x: number; y: number; w: number; h: number; make: () => any }) {
  const ref = useRef<HTMLCanvasElement | null>(null);
  useEffect(() => {
    if (!ref.current) return;
    const chart = new Chart(ref.current, make());
    return () => chart.destroy();
  }, []);
  return <canvas ref={ref} width={w} height={h} style={{ position: 'absolute', left: x, top: y, width: w, height: h }} />;
}

function Txt({ x, y, children, size = 22, rot = 0, align = 'center', lh = 1.2, style = {} }: any) {
  const tx = align === 'left' ? '0%' : align === 'right' ? '-100%' : '-50%';
  return (
    <div
      style={{
        position: 'absolute',
        left: x,
        top: y,
        transform: `translate(${tx}, -50%)${rot ? ` rotate(${rot}deg)` : ''}`,
        fontFamily: SANS,
        fontSize: size,
        lineHeight: lh,
        whiteSpace: 'pre',
        textAlign: align === 'left' ? 'left' : 'center',
        color: INK,
        ...style,
      }}
    >
      {children}
    </div>
  );
}

function LegendRow({ x1, x2, tx, y, color, label }: any) {
  return (
    <>
      <div style={{ position: 'absolute', left: x1, top: y - 1.5, width: x2 - x1, height: 3, background: color }} />
      <Txt x={tx} y={y} size={22} align="left">{label}</Txt>
    </>
  );
}

const Sub = ({ children }: any) => (
  <span style={{ fontSize: '0.62em', verticalAlign: '-0.3em', lineHeight: 0 }}>{children}</span>
);
const Sup = ({ children }: any) => (
  <span style={{ fontSize: '0.62em', verticalAlign: '0.55em', lineHeight: 0 }}>{children}</span>
);
const Label = ({ x, y, t }: any) => (
  <Txt x={x} y={y} size={30} style={{ fontWeight: 700 }}>{t}</Txt>
);

export default function App() {
  return (
    <div style={{ position: 'absolute', left: 0, top: 0, width: 2095, height: 2100, background: '#fff', overflow: 'hidden', fontFamily: SANS }}>
      <div style={{ position: 'absolute', left: 0, top: 0, width: 2095, height: 2, background: '#555' }} />

      {/* ---------- a ---------- */}
      <ChartBox x={0} y={70} w={660} h={460} make={makeA} />
      <Label x={31} y={30} t="a" />
      <Txt x={362} y={53} size={21}>Ramos ADCP Assay</Txt>
      <Txt x={80} y={267} size={22} rot={-90} lh="26px">{'Normalized\nphagocytosis index'}</Txt>
      <Txt x={372.5} y={493} size={22}>Hours</Txt>
      <LegendRow x1={170.5} x2={193.6} tx={198.7} y={93} color="#8c8c8c" label="Control" />
      <LegendRow x1={170.5} x2={193.6} tx={198.7} y={120} color="#3b73c4" label="anti-CD47" />
      <LegendRow x1={170.5} x2={193.6} tx={198.7} y={151.5} color="#22a045" label="anti-CD20" />
      <LegendRow x1={170.5} x2={193.6} tx={198.7} y={187.5} color="#cc1f26" label="anti-CD47" />
      <Txt x={198.7} y={213} size={22} align="left">+anti-CD20</Txt>

      {/* ---------- b ---------- */}
      <ChartBox x={656} y={70} w={600} h={460} make={makeB} />
      <Label x={674} y={29} t="b" />
      <Txt x={1011} y={57} size={21.5}>Ramos ADCP Assay with anti-CD20</Txt>
      <Txt x={727.5} y={263} size={22} rot={-90} lh="27px">{'Normalized\nphagocytosis index'}</Txt>
      <Txt x={999} y={491} size={22}>Hours</Txt>
      <LegendRow x1={834} x2={855} tx={862} y={94} color="#cc2027" label="J774" />
      <LegendRow x1={834} x2={855} tx={862} y={122} color="#3a72c2" label="U937" />

      {/* ---------- c ---------- */}
      <ChartBox x={1290} y={70} w={620} h={460} make={makeC} />
      <Label x={1325} y={36} t="c" />
      <Txt x={1626} y={57} size={21}>Ramos ADCP Assay</Txt>
      <Txt x={1336} y={263} size={22} rot={-90} lh="27px">{'Normalized\nphagocytosis index'}</Txt>
      <Txt x={1617.5} y={492} size={22}>Hours</Txt>
      <LegendRow x1={1439.6} x2={1460.7} tx={1466} y={94} color="#8c8c8c" label="Ctrl" />
      <LegendRow x1={1439.6} x2={1460.7} tx={1466} y={122} color="#e8403a" label="LPS" />

      {/* ---------- d ---------- */}
      <ChartBox x={0} y={580} w={640} h={440} make={makeD} />
      <Label x={30} y={539} t="d" />
      <Txt x={377.7} y={572} size={22}>J774 RNA-seq</Txt>
      <Txt x={377} y={999} size={22}>Log<Sub>2</Sub>(LPS treated:Untreated)</Txt>
      <Txt x={77.7} y={780} size={22} rot={-90}>-log<Sub>10</Sub>(Adj. P val)</Txt>
      <Txt x={491.6} y={643} size={17.5}>NOS2</Txt>
      <Txt x={553} y={662} size={17.5}>IL1B</Txt>

      {/* ---------- e ---------- */}
      <ChartBox x={700} y={560} w={460} h={430} make={makeE} />
      <Label x={674} y={522} t="e" />
      <Txt x={979} y={573} size={21}>CRISPRko screen</Txt>
      <Txt x={838} y={688} size={22}>R<Sup>2</Sup> = 0.27</Txt>
      <Txt x={979} y={1003} size={22}>Signed casTLE score (rep.1)</Txt>
      <Txt x={728} y={780} size={22} rot={-90}>Signed casTLE score (rep.2)</Txt>

      {/* ---------- f ---------- */}
      <ChartBox x={1150} y={600} w={880} h={390} make={makeF} />
      <Label x={1150} y={517} t="f" />
      <Txt x={1680.5} y={585.5} size={21.5} lh="26px">{'Gene Ontology Enrichment Analysis\n(CRISPRko hits)'}</Txt>
      <Txt x={1791} y={962} size={22}>-log<Sub>10</Sub> FDR</Txt>

      {/* ---------- g ---------- */}
      <ChartBox x={0} y={1125} w={640} h={445} make={makeG} />
      <Label x={31} y={1079} t="g" />
      <Txt x={367.5} y={1101} size={22} lh="26.7px">{'CRISPRko ADCP Batch Re-Test Screen in\nRamos B Cell Lymphoma'}</Txt>
      <Txt x={79} y={1347} size={22} rot={-90}>CasTLE Confidence Score</Txt>
      <Txt x={242.5} y={1569} size={22} lh="26px">{'Knockout sensitizes\nto ADCP'}</Txt>
      <Txt x={518} y={1569} size={22} lh="26px">{'Knockout protects\nagainst ADCP'}</Txt>
      <Txt x={377.7} y={1607.5} size={22}>Effect Size (log<Sub>2</Sub>)</Txt>
      <Txt x={199} y={1211.5} size={22} style={{ fontStyle: 'italic', color: '#d65b4c' }}>CD47</Txt>
      <Txt x={216.7} y={1310.5} size={22} style={{ fontStyle: 'italic', color: '#c8192b' }}>APMAP</Txt>
      <Txt x={472} y={1213} size={22} style={{ fontStyle: 'italic', color: '#3db54a' }}>CD20</Txt>
      <svg width={2095} height={2100} style={{ position: 'absolute', left: 0, top: 0, pointerEvents: 'none' }}>
        <line x1={371} y1={1582} x2={339} y2={1582} stroke={INK} strokeWidth={1.5} />
        <polygon points="334,1582 342,1578.5 342,1585.5" fill={INK} />
        <line x1={387} y1={1582} x2={419} y2={1582} stroke={INK} strokeWidth={1.5} />
        <polygon points="424,1582 416,1578.5 416,1585.5" fill={INK} />
      </svg>

      {/* ---------- h ---------- */}
      <ChartBox x={690} y={1130} w={560} h={410} make={makeH} />
      <Label x={676} y={1079} t="h" />
      <Txt x={952} y={1101} size={22} lh="26.7px">{'CRISPRko ADCP Batch Re-Test Screen in\nRamos B Cell Lymphoma'}</Txt>
      <Txt x={842.5} y={1201.5} size={22}>R<Sup>2</Sup> = 0.88</Txt>
      <Txt x={983} y={1555} size={22}>Signed CasTLE Score (Rep. 1)</Txt>
      <Txt x={726} y={1335} size={22} rot={-90}>{'Signed CasTLE  Score (Rep. 2)'}</Txt>

      {/* ---------- i ---------- */}
      <ChartBox x={1360} y={1130} w={560} h={410} make={makeI} />
      <Label x={1267} y={1077} t="i" />
      <Txt x={1612.7} y={1101} size={22} lh="26.7px">{'CRISPRko ADCP Screen in Ramos Cells\n(Batch Re-Test vs Genome-Wide)'}</Txt>
      <Txt x={1484} y={1201.5} size={22}>R<Sup>2</Sup> = 0.49</Txt>
      <Txt x={1639.6} y={1555} size={22}>Signed CasTLE Score (Genome-wide screen)</Txt>
      <Txt x={1357} y={1346} size={22} rot={-90}>{'Signed CasTLE  Score (Batch Re-Test)'}</Txt>

      {/* ---------- j ---------- */}
      <ChartBox x={0} y={1645} w={640} h={455} make={makeJ} />
      <Label x={32} y={1666} t="j" />
      <Txt x={326} y={1675} size={22}>Survival assay with Ramos Cas9 cells</Txt>
      <Txt x={76.5} y={1870} size={22} rot={-90} lh="26.7px">{'Proportion surviving\nmacrophage treatment\n(norm. to control)'}</Txt>
    </div>
  );
}
